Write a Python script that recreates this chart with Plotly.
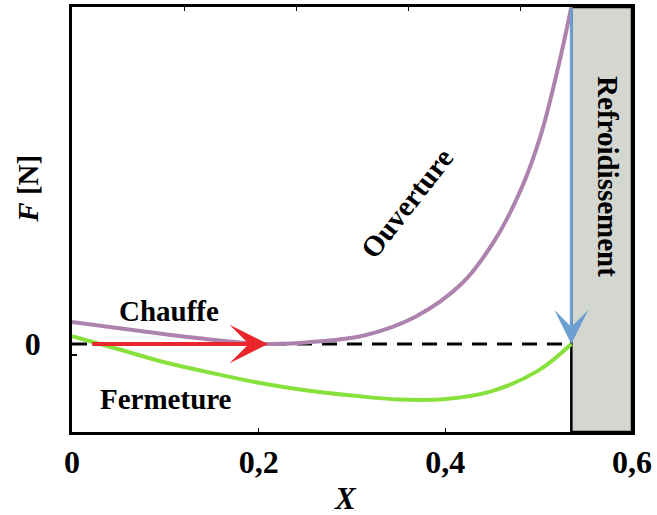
import plotly.graph_objects as go

# ---- data ----
x_ouverture = [0.0, 0.065, 0.136, 0.21, 0.26, 0.314, 0.368, 0.418, 0.453, 0.482, 0.503, 0.521, 0.535]
f_ouverture = [0.25, 0.16, 0.065, 0.0, 0.025, 0.10, 0.31, 0.69, 1.18, 1.78, 2.40, 3.15, 3.83]

x_fermeture = [0.0, 0.05, 0.1, 0.15, 0.2, 0.25, 0.3, 0.35, 0.4, 0.45, 0.5, 0.535]
f_fermeture = [0.09, -0.06, -0.21, -0.33, -0.44, -0.525, -0.585, -0.63, -0.625, -0.535, -0.30, 0.0]

x_dashed = [0.0, 0.535]
f_dashed = [0.0, 0.0]

x_chauffe_start, x_chauffe_end = 0.02, 0.21
x_refroid = 0.535
f_top = 3.83

x_range = [0.0, 0.6]
y_range = [-1.0, 3.83]

x_tick_vals = [0, 0.2, 0.4, 0.6]
x_tick_text = ["0", "0,2", "0,4", "0,6"]
x_top_ticks = [0.12, 0.24, 0.36, 0.48]
y_tick_vals = [0, -0.13]
y_tick_text = ["0", ""]

FONT = "Liberation Serif"
PURPLE = "#ad82ad"
GREEN = "#88e03c"
RED = "#e8262b"
BLUE = "#6e9fd2"
GRAY = "#d4d6d0"

fig = go.Figure()

fig.add_shape(type="rect", x0=x_refroid, x1=x_range[1], y0=y_range[0], y1=y_range[1],
              xref="x", yref="y", fillcolor=GRAY, line=dict(color="black", width=2.5),
              layer="below")

fig.add_trace(go.Scatter(x=x_dashed, y=f_dashed, mode="lines",
                         line=dict(color="black", width=3, dash="15px,10px"),
                         showlegend=False, hoverinfo="skip"))
fig.add_trace(go.Scatter(x=x_fermeture, y=f_fermeture, mode="lines",
                         line=dict(color=GREEN, width=4, shape="spline"),
                         showlegend=False))
fig.add_trace(go.Scatter(x=x_ouverture, y=f_ouverture, mode="lines",
                         line=dict(color=PURPLE, width=4, shape="spline"),
                         showlegend=False))
# empty trace so the top tick axis is bound to a trace
fig.add_trace(go.Scatter(x=x_top_ticks, y=[None] * len(x_top_ticks), xaxis="x2",
                         mode="lines", showlegend=False, hoverinfo="skip"))

# arrows
fig.add_annotation(x=x_chauffe_end, y=0, ax=x_chauffe_start, ay=0, xref="x", yref="y",
                   axref="x", ayref="y", showarrow=True, arrowhead=3, arrowsize=1.6,
                   arrowwidth=4, arrowcolor=RED, text="")
fig.add_annotation(x=x_refroid, y=0, ax=x_refroid, ay=f_top, xref="x", yref="y",
                   axref="x", ayref="y", showarrow=True, arrowhead=3, arrowsize=1.9,
                   arrowwidth=3, arrowcolor=BLUE, text="")

# text labels
lab = dict(family=FONT, size=29, color="black")
fig.add_annotation(x=0.104, y=0.375, text="<b>Chauffe</b>", showarrow=False, font=lab)
fig.add_annotation(x=0.101, y=-0.625, text="<b>Fermeture</b>", showarrow=False, font=lab)
fig.add_annotation(x=0.359, y=1.60, text="<b>Ouverture</b>", showarrow=False, font=lab,
                   textangle=-52)
fig.add_annotation(x=0.574, y=1.90, text="<b>Refroidissement</b>", showarrow=False,
                   font=lab, textangle=90)
fig.add_annotation(xref="paper", yref="paper", x=-0.079, y=0.572,
                   xanchor="center", yanchor="middle",
                   text="<b><i>F</i> [N]</b>", showarrow=False, font=lab, textangle=-90)
fig.add_annotation(xref="paper", yref="paper", x=0.489, y=-0.157,
                   xanchor="center", yanchor="middle",
                   text="<b><i>X</i></b>", showarrow=False,
                   font=dict(family=FONT, size=31, color="black"))

fig.update_layout(
    width=657, height=515,
    margin=dict(l=72, r=25, t=7, b=83),
    paper_bgcolor="white", plot_bgcolor="white",
    showlegend=False,
    xaxis=dict(range=x_range, tickvals=x_tick_vals,
               ticktext=["<b>%s</b>" % t for t in x_tick_text],
               ticks="inside", ticklen=4, tickwidth=1, tickcolor="black",
               showline=True, linecolor="black", linewidth=2.5, mirror=True,
               showgrid=False, zeroline=False, automargin=False,
               tickfont=dict(family=FONT, size=32, color="black"),
               ticklabelstandoff=0),
    xaxis2=dict(range=x_range, overlaying="x", side="top", tickvals=x_top_ticks,
                ticks="inside", ticklen=4, tickwidth=1, tickcolor="black",
                showticklabels=False, showgrid=False, zeroline=False, showline=False,
                automargin=False),
    yaxis=dict(range=y_range, tickvals=y_tick_vals,
               ticktext=["<b>%s</b>" % t if t else "" for t in y_tick_text],
               ticks="inside", ticklen=5, tickwidth=1.5, tickcolor="black",
               showline=True, linecolor="black", linewidth=2.5, mirror=True,
               showgrid=False, zeroline=False, automargin=False,
               tickfont=dict(family=FONT, size=32, color="black"),
               ticklabelstandoff=22),
)

fig.write_html("out.html", config={"displayModeBar": False},
               post_script="document.body.style.margin='0';document.body.style.overflow='hidden';")
